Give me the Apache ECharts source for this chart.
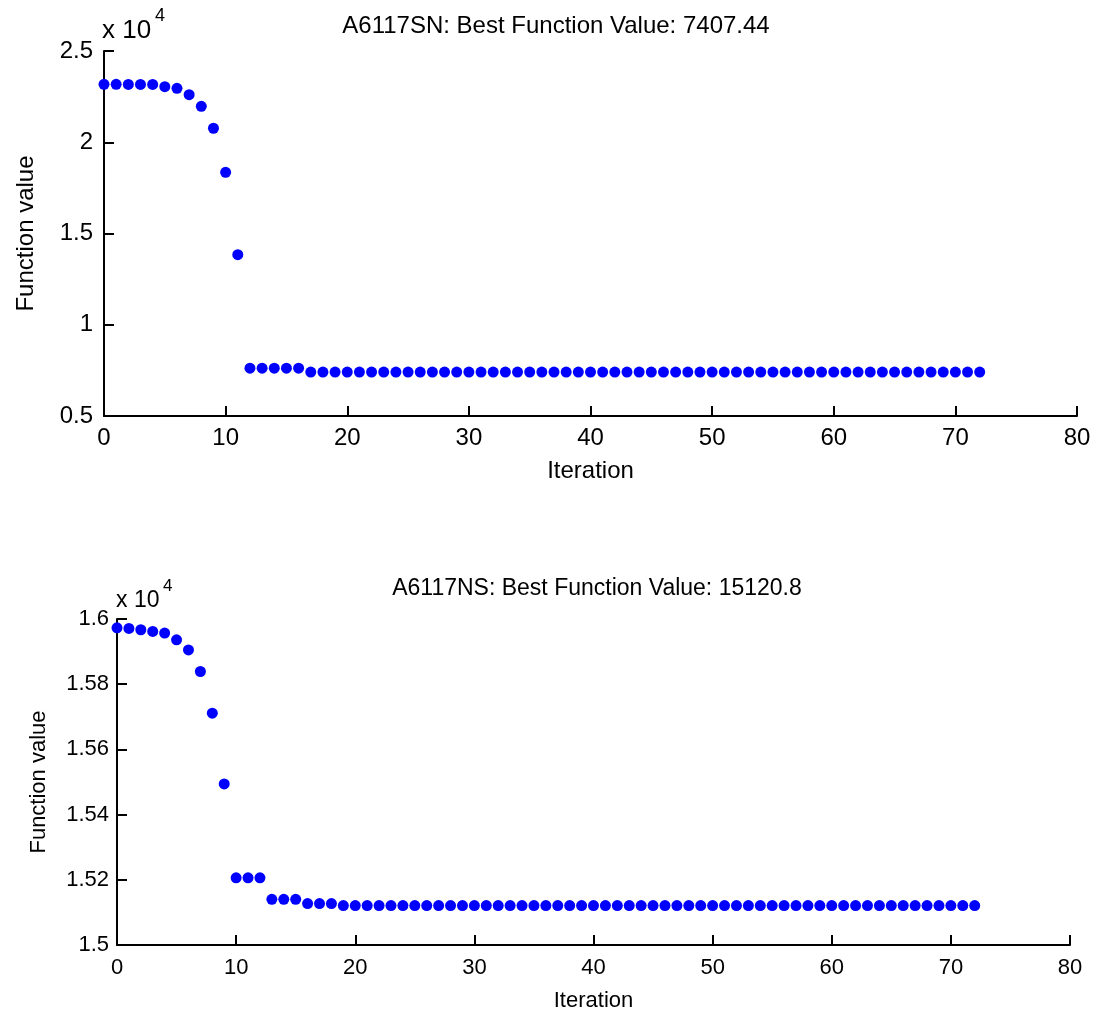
<!DOCTYPE html>
<html>
<head>
<meta charset="utf-8">
<script src="https://cdn.jsdelivr.net/npm/echarts@6/dist/echarts.min.js"></script>
<style>
  html, body { margin: 0; padding: 0; background: #fff; }
  #main { width: 1100px; height: 1016px; }
</style>
</head>
<body>
<div id="main"></div>
<script>
// best function value per iteration (raw values, axes show them in units of 10^4)
var valuesSN = [
    23175, 23175, 23170, 23170, 23170, 23044, 22956, 22605,
    21970, 20767, 18353, 13838, 7620, 7620, 7620, 7620, 7620,
    7407.44, 7407.44, 7407.44, 7407.44, 7407.44, 7407.44, 7407.44, 7407.44,
    7407.44, 7407.44, 7407.44, 7407.44, 7407.44, 7407.44, 7407.44, 7407.44,
    7407.44, 7407.44, 7407.44, 7407.44, 7407.44, 7407.44, 7407.44, 7407.44,
    7407.44, 7407.44, 7407.44, 7407.44, 7407.44, 7407.44, 7407.44, 7407.44,
    7407.44, 7407.44, 7407.44, 7407.44, 7407.44, 7407.44, 7407.44, 7407.44,
    7407.44, 7407.44, 7407.44, 7407.44, 7407.44, 7407.44, 7407.44, 7407.44,
    7407.44, 7407.44, 7407.44, 7407.44, 7407.44, 7407.44, 7407.44, 7407.44
];
var valuesNS = [
    15973, 15971, 15967, 15962, 15957, 15936, 15905, 15839,
    15711, 15494, 15206, 15206, 15206, 15140, 15140, 15140,
    15127, 15127, 15127,
    15120.8, 15120.8, 15120.8, 15120.8, 15120.8, 15120.8,
    15120.8, 15120.8, 15120.8, 15120.8, 15120.8, 15120.8,
    15120.8, 15120.8, 15120.8, 15120.8, 15120.8, 15120.8,
    15120.8, 15120.8, 15120.8, 15120.8, 15120.8, 15120.8,
    15120.8, 15120.8, 15120.8, 15120.8, 15120.8, 15120.8,
    15120.8, 15120.8, 15120.8, 15120.8, 15120.8, 15120.8,
    15120.8, 15120.8, 15120.8, 15120.8, 15120.8, 15120.8,
    15120.8, 15120.8, 15120.8, 15120.8, 15120.8, 15120.8,
    15120.8, 15120.8, 15120.8, 15120.8, 15120.8, 15120.8
];
var titleSN = 'A6117SN: Best Function Value: 7407.44';
var titleNS = 'A6117NS: Best Function Value: 15120.8';

var FONT = "'Liberation Sans', Arial, sans-serif";

function toPoints(vals) {
    return vals.map(function (v, i) { return [i, v]; });
}
function scaled(v) {
    return String(parseFloat((v / 10000).toFixed(2)));
}

function xAxisCfg(gridIndex, size, labelMargin, nameGap) {
    return {
        gridIndex: gridIndex,
        type: 'value',
        min: 0, max: 80, interval: 10,
        name: 'Iteration',
        nameLocation: 'middle',
        nameGap: nameGap,
        nameTextStyle: { color: '#000', fontSize: size, fontFamily: FONT },
        axisLine: { lineStyle: { color: '#000', width: 2 } },
        axisTick: { inside: true, length: 10, lineStyle: { color: '#000', width: 2 } },
        axisLabel: { color: '#000', fontSize: size, fontFamily: FONT, margin: labelMargin },
        splitLine: { show: false }
    };
}
function yAxisCfg(gridIndex, min, max, interval, size, labelMargin, nameGap) {
    return {
        gridIndex: gridIndex,
        type: 'value',
        min: min, max: max, interval: interval,
        name: 'Function value',
        nameLocation: 'middle',
        nameRotate: 90,
        nameGap: nameGap,
        nameTextStyle: { color: '#000', fontSize: size, fontFamily: FONT },
        axisLine: { lineStyle: { color: '#000', width: 2 } },
        axisTick: { inside: true, length: 10, lineStyle: { color: '#000', width: 2 } },
        axisLabel: { color: '#000', fontSize: size, fontFamily: FONT, margin: labelMargin, formatter: scaled },
        splitLine: { show: false }
    };
}

var chart = echarts.init(document.getElementById('main'));
var option = {
    backgroundColor: '#fff',
    animation: false,
    title: [
        { text: titleSN, left: 551, top: 9, textAlign: 'center',
          textStyle: { color: '#000', fontSize: 24, fontWeight: 'normal', fontFamily: FONT } },
        { text: titleNS, left: 592, top: 572, textAlign: 'center',
          textStyle: { color: '#000', fontSize: 23, fontWeight: 'normal', fontFamily: FONT } }
    ],
    graphic: [
        { type: 'text', x: 102, y: 31, style: { text: 'x 10', fill: '#000', font: '26px ' + FONT, verticalAlign: 'middle' } },
        { type: 'text', x: 155, y: 16, style: { text: '4', fill: '#000', font: '18px ' + FONT, verticalAlign: 'middle' } },
        { type: 'text', x: 116, y: 601, style: { text: 'x 10', fill: '#000', font: '23px ' + FONT, verticalAlign: 'middle' } },
        { type: 'text', x: 163, y: 586, style: { text: '4', fill: '#000', font: '17px ' + FONT, verticalAlign: 'middle' } }
    ],
    grid: [
        { left: 104, top: 51, width: 973, height: 365 },
        { left: 117, top: 619, width: 953, height: 326 }
    ],
    xAxis: [
        xAxisCfg(0, 24, 10, 43),
        xAxisCfg(1, 22, 12, 45)
    ],
    yAxis: [
        yAxisCfg(0, 5000, 25000, 5000, 24, 11, 66),
        yAxisCfg(1, 15000, 16000, 200, 22, 8, 67)
    ],
    series: [
        {
            type: 'scatter', xAxisIndex: 0, yAxisIndex: 0,
            symbolSize: 11,
            itemStyle: { color: '#0000ff', opacity: 1 },
            data: toPoints(valuesSN)
        },
        {
            type: 'scatter', xAxisIndex: 1, yAxisIndex: 1,
            symbolSize: 11,
            itemStyle: { color: '#0000ff', opacity: 1 },
            data: toPoints(valuesNS)
        }
    ]
};
chart.setOption(option);
</script>
</body>
</html>
